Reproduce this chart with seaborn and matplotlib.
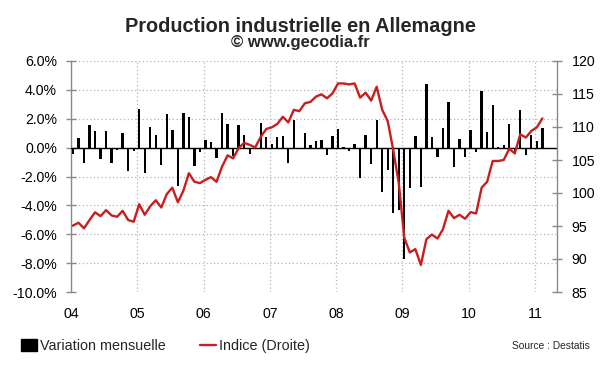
import matplotlib
matplotlib.use("Agg")
import matplotlib.pyplot as plt
import seaborn as sns
import numpy as np
import pandas as pd
from matplotlib.lines import Line2D
from matplotlib.patches import Patch

# ---- data (monthly, Jan 2004 -> Feb 2011) ----
variation = [
    # 2004
    -0.44, 0.65, -1.04, 1.6, 1.13, -0.76, 1.13, -1.04, -0.14, 1.04, -1.6, -0.2,
    # 2005
    2.7, -1.73, 1.45, 0.9, -1.22, 2.35, 1.2, -2.65, 2.42, 2.15, -1.25, -0.32,
    # 2006
    0.5, 0.42, -0.7, 2.38, 1.64, -0.55, 1.6, 0.85, -0.46, -0.1, 1.7, 0.74,
    # 2007
    0.28, 0.76, 0.83, -1.06, 1.9, -0.1, 1.0, 0.18, 0.46, 0.53, -0.48, 0.78,
    # 2008
    1.3, 0.05, -0.25, 0.25, -2.08, 0.85, -1.1, 1.94, -3.07, -1.57, -4.5, -4.34,
    # 2009
    -7.73, -2.77, 0.78, -2.73, 4.39, 0.74, -0.65, 1.36, 3.16, -1.34, 0.62, -0.65,
    # 2010
    1.25, -0.3, 3.93, 1.08, 2.93, 0.05, 0.18, 1.62, -0.46, 2.63, -0.48, 0.88,
    # 2011
    0.46, 1.39,
]
indice = [
    # 2004
    95.05, 95.5, 94.65, 95.9, 97.07, 96.5, 97.4, 96.6, 96.4, 97.3, 95.9, 95.65,
    # 2005
    98.3, 96.7, 98.0, 98.9, 97.8, 99.85, 100.8, 98.6, 100.35, 103.0, 101.7, 101.5,
    # 2006
    102.0, 102.4, 101.7, 104.0, 105.7, 105.25, 106.8, 107.6, 107.3, 106.9, 108.5, 109.7,
    # 2007
    109.95, 110.45, 111.55, 110.7, 112.6, 112.4, 113.6, 113.8, 114.6, 114.95, 114.35, 115.1,
    # 2008
    116.6, 116.6, 116.45, 116.6, 114.45, 115.2, 114.0, 116.1, 112.6, 110.9, 106.5, 101.5,
    # 2009
    93.2, 91.0, 91.5, 89.1, 93.0, 93.7, 93.1, 94.5, 97.3, 96.2, 96.7, 96.1,
    # 2010
    97.1, 96.9, 100.8, 101.7, 104.85, 104.85, 105.0, 106.7, 106.0, 108.9, 108.4, 109.4,
    # 2011
    109.95, 111.3,
]
year_labels = ["04", "05", "06", "07", "08", "09", "10", "11"]
left_ticks = [-10, -8, -6, -4, -2, 0, 2, 4, 6]
right_ticks = [85, 90, 95, 100, 105, 110, 115, 120]

sns.set_theme(style="white")
plt.rcParams["font.family"] = ["Liberation Sans", "DejaVu Sans"]

W, H = 600, 372
fig = plt.figure(figsize=(6, 3.72), dpi=100)
L, R, T, B = 71, 557, 61, 292
ax = fig.add_axes([L / W, 1 - B / H, (R - L) / W, (B - T) / H])

month = np.arange(len(variation)) + 0.35
df = pd.DataFrame({"mois": month, "variation": variation, "indice": indice})

grid_col = "#b4b4b4"
spine_col = "#8a8a8a"
red = "#c81e1e"

sns.barplot(data=df, x="mois", y="variation", native_scale=True, width=0.42,
            color="black", saturation=1, errorbar=None, edgecolor="black",
            linewidth=0, ax=ax, zorder=3)
ax.set_xlim(0, 88)
ax.set_ylim(-10, 6)
ax.set_yticks(left_ticks)
ax.set_yticklabels([f"{v:.1f}%" for v in left_ticks])
ax.set_xticks([12 * i for i in range(len(year_labels))])
ax.set_xticklabels(year_labels)
ax.set_xlabel("")
ax.set_ylabel("")
ax.grid(True, axis="both", linestyle=(0, (1, 2)), color=grid_col, linewidth=0.9, zorder=0)
ax.set_axisbelow(True)
ax.axhline(0, color="black", linewidth=1.0, zorder=4)
for s in ["top", "bottom", "right"]:
    ax.spines[s].set_visible(False)
ax.spines["left"].set_color(spine_col)
ax.spines["left"].set_linewidth(1.0)
ax.tick_params(axis="y", direction="inout", length=7, width=1, color=spine_col,
               labelsize=10.2, pad=6.5, left=True, labelcolor="black")
ax.tick_params(axis="x", length=0, labelsize=10.2, pad=11, labelcolor="black")

ax2 = ax.twinx()
sns.lineplot(data=df, x="mois", y="indice", ax=ax2, color=red, linewidth=1.7, zorder=5)
ax2.set_ylim(85, 120)
ax2.set_yticks(right_ticks)
ax2.set_yticklabels([str(v) for v in right_ticks])
ax2.set_xlim(0, 88)
ax2.set_xlabel("")
ax2.set_ylabel("")
ax2.grid(False)
for s in ["top", "bottom", "left"]:
    ax2.spines[s].set_visible(False)
ax2.spines["right"].set_color(spine_col)
ax2.spines["right"].set_linewidth(1.0)
ax2.tick_params(axis="y", direction="inout", length=7, width=1, color=spine_col,
                labelsize=10.2, pad=7, right=True, labelcolor="black")

fig.text(0.5, 1 - 31.5 / H, "Production industrielle en Allemagne", ha="center",
         va="baseline", fontsize=14.3, fontweight="bold")
fig.text(0.5, 1 - 47.5 / H, "© www.gecodia.fr", ha="center", va="baseline",
         fontsize=12, fontweight="bold")

handles = [Patch(facecolor="black", edgecolor="black", label="Variation mensuelle"),
           Line2D([0], [0], color=red, linewidth=1.7, label="Indice (Droite)")]
fig.legend(handles=handles, loc="center left", bbox_to_anchor=(21 / W, 1 - 346 / H),
           ncol=2, frameon=False, fontsize=10.4, handlelength=1.1, handleheight=0.85,
           handletextpad=0.2, columnspacing=2.4, borderaxespad=0, borderpad=0)
fig.text(590 / W, 1 - 346 / H, "Source : Destatis", ha="right", va="center", fontsize=7.4)

fig.savefig("out.png", dpi=100, facecolor="white")
